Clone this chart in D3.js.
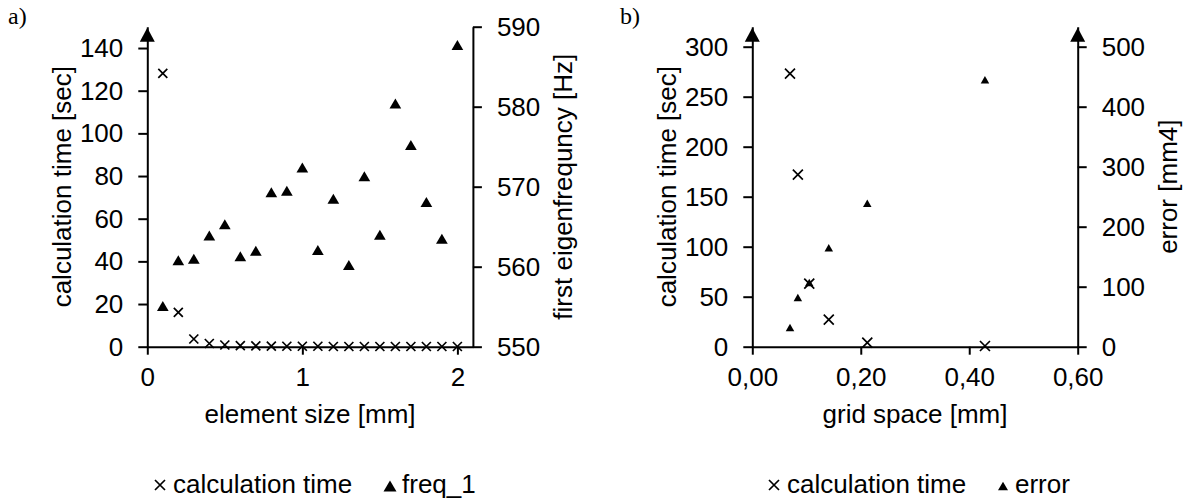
<!DOCTYPE html>
<html>
<head>
<meta charset="utf-8">
<script src="https://cdn.jsdelivr.net/npm/d3@7"></script>
<style>
  html, body { margin:0; padding:0; background:#fff; }
  svg text { font-family: "Liberation Sans", Arial, sans-serif; fill:#000; }
</style>
</head>
<body>
<div id="chart"></div>
<script>
// panel a) element size study
const elementSize = [0.1,0.2,0.3,0.4,0.5,0.6,0.7,0.8,0.9,1.0,1.1,1.2,1.3,1.4,1.5,1.6,1.7,1.8,1.9,2.0];
const calcTimeA = [128.1,16.1,3.6,1.5,0.8,0.5,0.4,0.3,0.2,0.2,0.2,0.1,0.1,0.1,0.1,0.1,0.1,0.1,0.1,0.1];
const freq1 = [555.1,560.8,561.0,563.9,565.3,561.3,562.0,569.3,569.5,572.4,562.1,568.5,560.2,571.3,564.0,580.4,575.2,568.1,563.5,587.7];
const xTicksA = [0,1,2];
const leftTicksA = [0,20,40,60,80,100,120,140];
const rightTicksA = [550,560,570,580,590];

// panel b) grid space study
const gridSpace = [0.0695,0.084,0.105,0.141,0.212,0.429];
const calcTimeB = [273,172,63,27,4,0.7];
const errorB = [32,82,107,165,239,445];
const xTicksB = [0,0.2,0.4,0.6];
const leftTicksB = [0,50,100,150,200,250,300];
const rightTicksB = [0,100,200,300,400,500];

const W = 1190, H = 504;
const fs = 26;
const plotTop = 26.7, plotBottom = 346.7;

var svg = d3.select('#chart')
  .append('svg')
  .attr('width', W)
  .attr('height', H);

function crossPath(r){ return `M${-r},${-r}L${r},${r}M${-r},${r}L${r},${-r}`; }
function triPath(w,h){ return `M0,${-h/2}L${w/2},${h/2}L${-w/2},${h/2}Z`; }

function styleAxis(g){
  g.attr('font-size', fs).attr('font-family', null);
  g.select('.domain').attr('stroke','#000').attr('stroke-width',2);
  g.selectAll('.tick line').attr('stroke','#000').attr('stroke-width',2);
  g.selectAll('.tick text').attr('fill','#000');
}

function arrow(x){
  svg.append('path')
     .attr('d', `M${x},${plotTop+1}L${x-7.5},${plotTop+15}L${x+7.5},${plotTop+15}Z`)
     .attr('fill','#000');
}

function panel(p){
  let x = d3.scaleLinear().domain(p.xDomain).range([p.left, p.right]);
  let yL = d3.scaleLinear().domain(p.leftDomain).range([plotBottom, plotTop]);
  let yR = d3.scaleLinear().domain(p.rightDomain).range([plotBottom, plotTop]);

  svg.append('g')
     .attr('transform', `translate(0,${plotBottom})`)
     .call(d3.axisBottom(x).tickValues(p.xTicks).tickFormat(p.xFormat)
             .tickSize(8).tickPadding(12.5).tickSizeOuter(0))
     .call(styleAxis);
  svg.append('g')
     .attr('transform', `translate(${p.left},0)`)
     .call(d3.axisLeft(yL).tickValues(p.leftTicks).tickSize(9).tickPadding(15).tickSizeOuter(0))
     .call(styleAxis);
  svg.append('g')
     .attr('transform', `translate(${p.right},0)`)
     .call(d3.axisRight(yR).tickValues(p.rightTicks).tickSize(9).tickPadding(15).tickSizeOuter(0))
     .call(styleAxis);

  arrow(p.left);
  if (p.rightArrow) arrow(p.right);

  // triangles (right axis)
  svg.append('g').selectAll('path')
     .data(p.xs.map((d,i) => [d, p.rightVals[i]]))
     .join('path')
     .attr('transform', d => `translate(${x(d[0])},${yR(d[1])})`)
     .attr('d', triPath(p.triW, p.triH))
     .attr('fill','#000');

  // crosses (left axis)
  svg.append('g').selectAll('path')
     .data(p.xs.map((d,i) => [d, p.leftVals[i]]))
     .join('path')
     .attr('transform', d => `translate(${x(d[0])},${yL(d[1])})`)
     .attr('d', crossPath(p.crossR))
     .attr('fill','none')
     .attr('stroke','#000')
     .attr('stroke-width',1.7);

  let cy = (plotTop + plotBottom) / 2;
  svg.append('text')
     .attr('transform', `translate(${p.left-76},${cy}) rotate(-90)`)
     .attr('text-anchor','middle')
     .attr('font-size', fs)
     .text(p.leftTitle);
  svg.append('text')
     .attr('transform', `translate(${p.right+99},${cy}) rotate(-90)`)
     .attr('text-anchor','middle')
     .attr('font-size', fs)
     .text(p.rightTitle);
  svg.append('text')
     .attr('x', (p.left + p.right) / 2)
     .attr('y', 423)
     .attr('text-anchor','middle')
     .attr('font-size', fs)
     .text(p.xTitle);

  svg.append('text')
     .attr('x', p.tagX)
     .attr('y', 24)
     .attr('font-size', 24)
     .style('font-family', '"Liberation Serif", "Times New Roman", serif')
     .text(p.tag);

  // legend
  let lg = svg.append('g');
  lg.append('path')
    .attr('transform', `translate(${p.legX},485)`)
    .attr('d', crossPath(5))
    .attr('fill','none').attr('stroke','#000').attr('stroke-width',1.7);
  lg.append('text').attr('x', p.legX + 13).attr('y', 493).attr('font-size', fs).text('calculation time');
  lg.append('path')
    .attr('transform', `translate(${p.legX2},486)`)
    .attr('d', triPath(p.legTriW, p.legTriW * 0.85))
    .attr('fill','#000');
  lg.append('text').attr('x', p.legX2 + 12).attr('y', 493).attr('font-size', fs).text(p.legName);
}

panel({
  left:147.3, right:472.9,
  xDomain:[0,2.1], leftDomain:[0,150], rightDomain:[550,590],
  xTicks:xTicksA, leftTicks:leftTicksA, rightTicks:rightTicksA,
  xFormat:d3.format('d'),
  xs:elementSize, leftVals:calcTimeA, rightVals:freq1,
  triW:11.7, triH:10, crossR:4.5,
  rightArrow:false,
  leftTitle:'calculation time [sec]', rightTitle:'first eigenfrequncy [Hz]', xTitle:'element size [mm]',
  tag:'a)', tagX:8,
  legX:160, legX2:390, legTriW:13, legName:'freq_1'
});

panel({
  left:752.3, right:1077.7,
  xDomain:[0,0.6], leftDomain:[0,320], rightDomain:[0,533.33],
  xTicks:xTicksB, leftTicks:leftTicksB, rightTicks:rightTicksB,
  xFormat:v => d3.format('.2f')(v).replace('.', ','),
  xs:gridSpace, leftVals:calcTimeB, rightVals:errorB,
  triW:8.5, triH:7.5, crossR:5,
  rightArrow:true,
  leftTitle:'calculation time [sec]', rightTitle:'error [mm4]', xTitle:'grid space [mm]',
  tag:'b)', tagX:620,
  legX:774, legX2:1003, legTriW:10, legName:'error'
});
</script>
</body>
</html>
